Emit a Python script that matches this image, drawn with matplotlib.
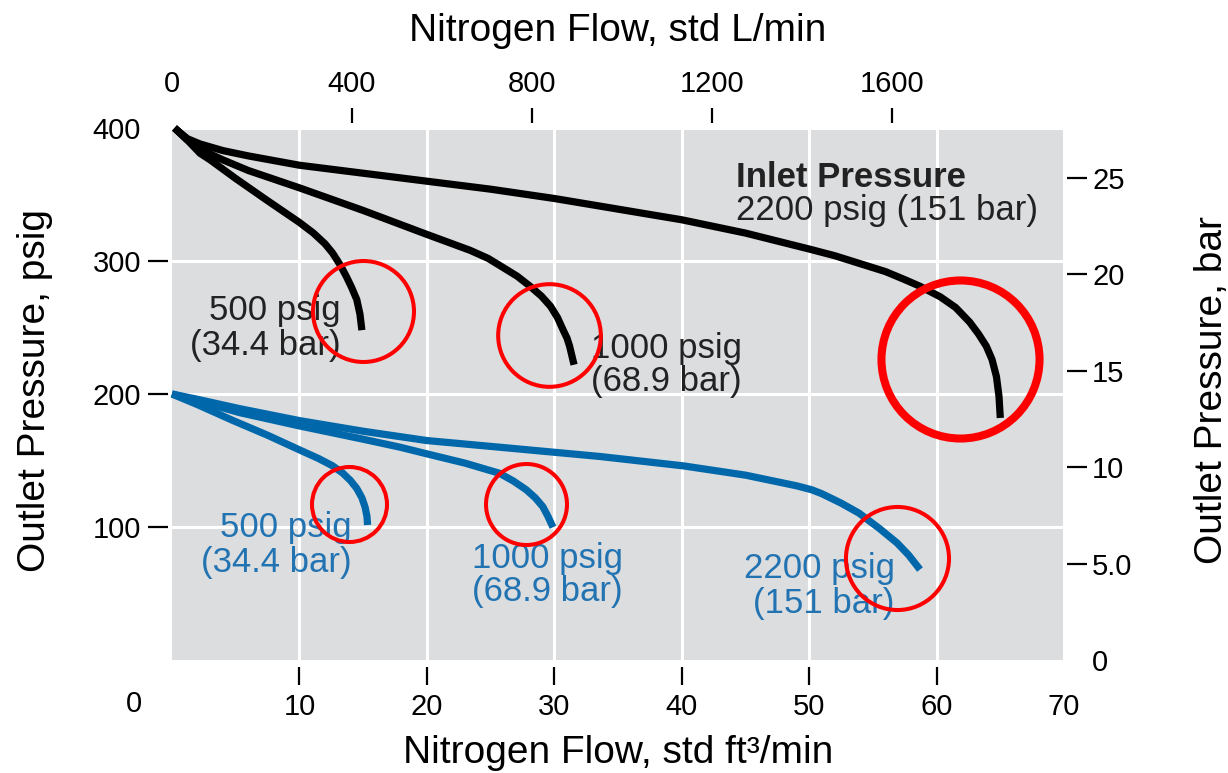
import matplotlib
matplotlib.use("Agg")
import matplotlib.pyplot as plt

plt.rcParams['font.family'] = ['Liberation Sans', 'DejaVu Sans']

# Outlet pressure (psig) vs nitrogen flow (std ft3/min).
# Black: 400 psig set point, blue: 200 psig set point, one curve per inlet pressure.
black_500_flow = [0.2, 1.2, 2.2, 3.0, 5.0, 7.4, 10.0, 11.1, 12.0, 12.6, 13.2, 13.7, 14.1, 14.5, 14.75, 14.9]
black_500_psig = [400, 391, 381, 376, 362, 346, 329, 321, 313, 306, 297, 288, 280, 271, 260, 248]

black_1000_flow = [0.2, 1.2, 2.2, 4.0, 6.0, 10.0, 15.0, 20.0, 23.4, 24.8, 26.0, 27.1, 28.1,
                   29.0, 29.7, 30.25, 30.7, 31.0, 31.2, 31.55]
black_1000_psig = [400, 391, 384, 376, 368, 355, 338, 320, 308, 302, 295, 288.5, 281,
                   273.5, 266, 257.5, 248, 242, 236, 222]

black_2200_flow = [0.2, 1.2, 2.2, 4.0, 6.0, 10.0, 15.0, 20.0, 25.0, 30.0, 35.0, 40.0, 45.0, 50.0,
                   52.0, 54.0, 56.0, 57.5, 58.7, 60.3, 61.5, 62.6, 63.3, 63.9, 64.35, 64.7, 64.9, 65.0]
black_2200_psig = [400, 392, 388, 383, 379, 372, 366, 360, 354, 347, 339, 331, 321, 309,
                   304, 298, 292, 286, 281, 273, 265, 254, 245, 236, 226, 213, 198, 182]

blue_500_flow = [0.0, 2.0, 4.8, 7.5, 10.0, 11.5, 12.6, 13.4, 14.0, 14.5, 14.9, 15.15, 15.3, 15.35]
blue_500_psig = [200, 192, 180, 169, 158, 151.5, 146, 140.5, 135, 129, 122, 115, 108, 101.5]

blue_1000_flow = [0.0, 2.0, 5.3, 10.0, 15.0, 17.9, 20.0, 23.0, 25.7, 26.8, 27.8, 28.5, 29.1, 29.5, 29.9]
blue_1000_psig = [200, 195, 186, 176, 166, 160, 155, 148, 140.4, 134.5, 128, 122, 115.3, 108, 99.8]

blue_2200_flow = [0.0, 2.0, 5.3, 10.0, 15.0, 20.0, 25.7, 33.6, 40.1, 45.0, 49.0, 50.2, 51.0,
                  52.5, 53.9, 55.5, 56.9, 57.8, 58.7]
blue_2200_psig = [200, 196, 189, 180, 172, 165, 160, 153, 146, 139, 131, 128, 125,
                  118, 110.5, 99, 88, 79, 68]

# red highlight rings at the curve ends (flow, psig)
ring_flow = [14.95, 29.6, 61.8, 13.9, 27.8, 56.9]
ring_psig = [262.4, 244.4, 226.1, 117.5, 117.1, 76.9]

flow_ticks = [10, 20, 30, 40, 50, 60, 70]
psig_ticks = [100, 200, 300, 400]
lpm_ticks = [0, 400, 800, 1200, 1600]
bar_ticks = [0, 5, 10, 15, 20, 25]
bar_tick_labels = ['0', '5.0', '10', '15', '20', '25']

L_PER_FT3 = 28.317
PSI_PER_BAR = 14.5038

BLUE = '#0068aa'
BLUE_TEXT = '#2273b2'
RED = '#ff0000'
GRAY = '#dcdddf'
TICK_FS = 21
LABEL_FS = 28
NOTE_FS = 25

W, H = 1228, 773
fig = plt.figure(figsize=(W / 100, H / 100), dpi=100)
ax = fig.add_axes([172 / W, 113 / H, 892 / W, 532 / H])
ax.set_facecolor(GRAY)
ax.set_xlim(0, 70)
ax.set_ylim(0, 400)
for s in ax.spines.values():
    s.set_visible(False)
ax.spines['bottom'].set_position(('outward', 5))
ax.spines['left'].set_position(('outward', 3))

ax.set_axisbelow(True)
ax.grid(True, color='white', linewidth=2.2)
ax.set_xticks(flow_ticks)
ax.set_yticks(psig_ticks)
ax.tick_params(axis='x', direction='out', length=13, width=1.6, pad=6, labelsize=TICK_FS)
ax.tick_params(axis='y', direction='out', length=14.4, width=1.6, pad=5, labelsize=TICK_FS)
ax.xaxis.get_major_ticks()[-1].tick1line.set_visible(False)
ax.yaxis.get_major_ticks()[-1].tick1line.set_visible(False)
# the "0" of the flow axis sits left of the plot
ax.text(-3.0, -0.0827, '0', transform=ax.get_xaxis_transform(),
        ha='center', va='center', fontsize=TICK_FS)

top = ax.secondary_xaxis(1 + 5 / 532, functions=(lambda f: f * L_PER_FT3, lambda l: l / L_PER_FT3))
top.set_xticks(lpm_ticks)
top.tick_params(direction='out', length=10.8, width=1.6, pad=7, labelsize=TICK_FS)
top.xaxis.get_major_ticks()[0].tick2line.set_visible(False)
for s in top.spines.values():
    s.set_visible(False)

right = ax.secondary_yaxis(1 + 3 / 892, functions=(lambda p: p / PSI_PER_BAR, lambda b: b * PSI_PER_BAR))
right.set_yticks(bar_ticks, labels=bar_tick_labels)
right.tick_params(direction='out', length=14.4, width=1.6, pad=3.6, labelsize=TICK_FS)
right.yaxis.get_major_ticks()[0].tick2line.set_visible(False)
for s in right.spines.values():
    s.set_visible(False)

curves = [
    (black_500_flow, black_500_psig, 'black'),
    (black_1000_flow, black_1000_psig, 'black'),
    (black_2200_flow, black_2200_psig, 'black'),
    (blue_500_flow, blue_500_psig, BLUE),
    (blue_1000_flow, blue_1000_psig, BLUE),
    (blue_2200_flow, blue_2200_psig, BLUE),
]
for fx, fy, c in curves:
    ax.plot(fx, fy, color=c, lw=5.2, solid_capstyle='butt', solid_joinstyle='round',
            clip_on=False, zorder=3)

ring_size = [72.7, 73.9, 113.8, 54, 58.3, 74.2]
ring_lw = [2.9, 2.9, 5.8, 2.9, 2.9, 2.9]
for i in range(len(ring_flow)):
    ax.plot(ring_flow[i], ring_psig[i], 'o', ms=ring_size[i], mfc='none', mec=RED,
            mew=ring_lw[i], zorder=5, clip_on=False)


def note(x, y, text, ha, color, weight='normal'):
    ax.text(x, y, text, ha=ha, va='baseline', fontsize=NOTE_FS, color=color,
            fontweight=weight, zorder=4)


note(13.27, 255.6, '500 psig', 'right', '#222222')
note(13.27, 229.3, '(34.4 bar)', 'right', '#222222')
note(32.85, 226.7, '1000 psig', 'left', '#222222')
note(32.85, 202.6, '(68.9 bar)', 'left', '#222222')
note(44.27, 355.6, 'Inlet Pressure', 'left', '#222222', 'bold')
note(44.27, 330.8, '2200 psig (151 bar)', 'left', '#222222')

note(14.09, 92.5, '500 psig', 'right', BLUE_TEXT)
note(14.09, 66.2, '(34.4 bar)', 'right', BLUE_TEXT)
note(23.55, 69.2, '1000 psig', 'left', BLUE_TEXT)
note(23.55, 44.4, '(68.9 bar)', 'left', BLUE_TEXT)
note(56.71, 61.7, '2200 psig', 'right', BLUE_TEXT)
note(56.71, 35.3, '(151 bar)', 'right', BLUE_TEXT)

fig.text(618 / W, 1 - 41 / H, 'Nitrogen Flow, std L/min', ha='center', va='baseline', fontsize=LABEL_FS)
fig.text(618 / W, 1 - 763 / H, 'Nitrogen Flow, std ft\u00b3/min', ha='center', va='baseline', fontsize=LABEL_FS)
fig.text(35 / W, 1 - 390 / H, 'Outlet Pressure, psig', rotation=90, ha='center', va='center', fontsize=LABEL_FS)
fig.text(1212 / W, 1 - 390 / H, 'Outlet Pressure, bar', rotation=90, ha='center', va='center', fontsize=LABEL_FS)

fig.savefig('out.png', dpi=100)
